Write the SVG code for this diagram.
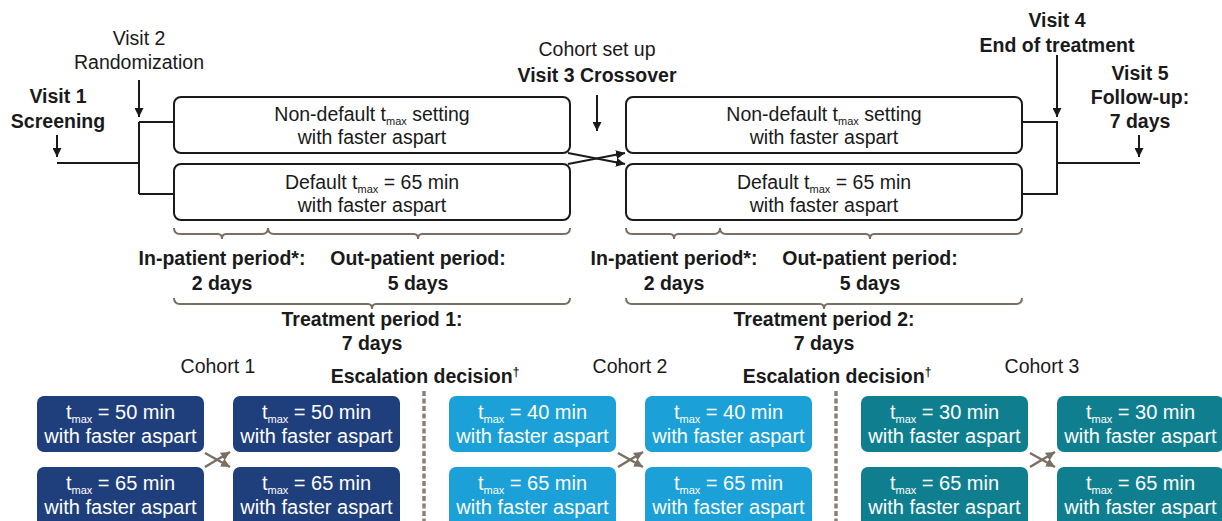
<svg xmlns="http://www.w3.org/2000/svg" width="1222" height="521" viewBox="0 0 1222 521">
<style>
.t{font-family:"Liberation Sans",Arial,sans-serif;font-size:19.5px;fill:#1a1a1a;text-anchor:middle}
.b{font-weight:bold}
.w{fill:#ffffff;font-size:20px}
.ln{stroke:#1a1a1a;stroke-width:2;fill:none}
.box{fill:#ffffff;stroke:#1a1a1a;stroke-width:2}
.br{stroke:#7b6f63;stroke-width:2;fill:none}
.c1{fill:#1f3e7c}
.c2{fill:#1ba1d8}
.c3{fill:#0f7f8f}
.x{stroke:#7b6f63;stroke-width:2.5;fill:none}
.dash{stroke:#8a8078;stroke-width:3.5;stroke-dasharray:5 2.5}
</style>
<defs>
<marker id="ah" viewBox="0 0 10 10" refX="10" refY="5" markerWidth="9" markerHeight="9" markerUnits="userSpaceOnUse" orient="auto"><path d="M0,0 L10,5 L0,10 z" fill="#1a1a1a"/></marker>
<marker id="ag" viewBox="0 0 10 10" refX="10" refY="5" markerWidth="9" markerHeight="9" markerUnits="userSpaceOnUse" orient="auto"><path d="M0,0 L10,5 L0,10 z" fill="#7b6f63"/></marker>
</defs>

<g id="connectors">
<line class="ln" x1="57" y1="135" x2="57" y2="157" marker-end="url(#ah)"/>
<line class="ln" x1="139" y1="80" x2="139" y2="117" marker-end="url(#ah)"/>
<line class="ln" x1="597" y1="95" x2="597" y2="131" marker-end="url(#ah)"/>
<line class="ln" x1="1057" y1="55" x2="1057" y2="117" marker-end="url(#ah)"/>
<line class="ln" x1="1139" y1="135" x2="1139" y2="157" marker-end="url(#ah)"/>
<path class="ln" d="M57,163 H139 M139,122 V194 M139,122 H174 M139,194 H174"/>
<path class="ln" d="M1022,122 H1057 V194 H1022 M1057,163 H1140"/>
<line class="ln" x1="568" y1="153" x2="625" y2="164" marker-end="url(#ah)"/>
<line class="ln" x1="568" y1="164" x2="625" y2="153" marker-end="url(#ah)"/>
<line class="x" x1="205" y1="453" x2="230" y2="467" marker-end="url(#ag)"/>
<line class="x" x1="205" y1="467" x2="230" y2="452" marker-end="url(#ag)"/>
<line class="x" x1="618" y1="453" x2="643" y2="467" marker-end="url(#ag)"/>
<line class="x" x1="618" y1="467" x2="643" y2="452" marker-end="url(#ag)"/>
<line class="x" x1="1030" y1="453" x2="1055" y2="467" marker-end="url(#ag)"/>
<line class="x" x1="1030" y1="467" x2="1055" y2="452" marker-end="url(#ag)"/>
</g>

<g id="visit-labels">
<text class="t b" x="58" y="103">Visit 1</text>
<text class="t b" x="58" y="128">Screening</text>
<text class="t" x="139" y="45">Visit 2</text>
<text class="t" x="139" y="69">Randomization</text>
<text class="t" x="597" y="56">Cohort set up</text>
<text class="t b" x="597" y="82">Visit 3 Crossover</text>
<text class="t b" x="1057" y="27">Visit 4</text>
<text class="t b" x="1057" y="52">End of treatment</text>
<text class="t b" x="1140" y="80">Visit 5</text>
<text class="t b" x="1140" y="104">Follow-up:</text>
<text class="t b" x="1140" y="128">7 days</text>
</g>

<g id="p1-nondefault">
<rect class="box" x="174" y="97" width="396" height="56" rx="7"/>
<text class="t" x="372" y="121">Non-default t<tspan font-size="11" dy="4">max</tspan><tspan dy="-4"> setting</tspan></text>
<text class="t" x="372" y="144">with faster aspart</text>
</g>
<g id="p1-default">
<rect class="box" x="174" y="164" width="396" height="56" rx="7"/>
<text class="t" x="372" y="189">Default t<tspan font-size="11" dy="4">max</tspan><tspan dy="-4"> = 65 min</tspan></text>
<text class="t" x="372" y="212">with faster aspart</text>
</g>
<g id="p2-nondefault">
<rect class="box" x="626" y="97" width="396" height="56" rx="7"/>
<text class="t" x="824" y="121">Non-default t<tspan font-size="11" dy="4">max</tspan><tspan dy="-4"> setting</tspan></text>
<text class="t" x="824" y="144">with faster aspart</text>
</g>
<g id="p2-default">
<rect class="box" x="626" y="164" width="396" height="56" rx="7"/>
<text class="t" x="824" y="189">Default t<tspan font-size="11" dy="4">max</tspan><tspan dy="-4"> = 65 min</tspan></text>
<text class="t" x="824" y="212">with faster aspart</text>
</g>

<g id="period1">
<path class="br" d="M174,228 q0,6 6,6 H218 q4,0 4,5 q0,-5 4,-5 H262 q6,0 6,-6"/>
<path class="br" d="M268,228 q0,6 6,6 H414 q4,0 4,5 q0,-5 4,-5 H564 q6,0 6,-6"/>
<text class="t b" x="222" y="265">In-patient period*:</text>
<text class="t b" x="222" y="290">2 days</text>
<text class="t b" x="418" y="265">Out-patient period:</text>
<text class="t b" x="418" y="290">5 days</text>
<path class="br" d="M174,298 q0,6 6,6 H368 q4,0 4,5 q0,-5 4,-5 H564 q6,0 6,-6"/>
<text class="t b" x="372" y="326">Treatment period 1:</text>
<text class="t b" x="372" y="350">7 days</text>
</g>

<g id="period2">
<path class="br" d="M626,228 q0,6 6,6 H670 q4,0 4,5 q0,-5 4,-5 H714 q6,0 6,-6"/>
<path class="br" d="M720,228 q0,6 6,6 H866 q4,0 4,5 q0,-5 4,-5 H1016 q6,0 6,-6"/>
<text class="t b" x="674" y="265">In-patient period*:</text>
<text class="t b" x="674" y="290">2 days</text>
<text class="t b" x="870" y="265">Out-patient period:</text>
<text class="t b" x="870" y="290">5 days</text>
<path class="br" d="M626,298 q0,6 6,6 H820 q4,0 4,5 q0,-5 4,-5 H1016 q6,0 6,-6"/>
<text class="t b" x="824" y="326">Treatment period 2:</text>
<text class="t b" x="824" y="350">7 days</text>
</g>

<g id="escalation">
<text class="t b" x="425" y="383">Escalation decision<tspan font-size="12" dy="-7">†</tspan></text>
<text class="t b" x="837" y="383">Escalation decision<tspan font-size="12" dy="-7">†</tspan></text>
<line class="dash" x1="424" y1="391" x2="424" y2="521"/>
<line class="dash" x1="836" y1="391" x2="836" y2="521"/>
</g>

<g id="cohort1">
<text class="t" x="218" y="373">Cohort 1</text>
<rect class="c1" x="37" y="396" width="167" height="56" rx="7"/>
<text class="t w" x="120.5" y="419">t<tspan font-size="11" dy="4">max</tspan><tspan dy="-4"> = 50 min</tspan></text>
<text class="t w" x="120.5" y="443">with faster aspart</text>
<rect class="c1" x="233" y="396" width="167" height="56" rx="7"/>
<text class="t w" x="316.5" y="419">t<tspan font-size="11" dy="4">max</tspan><tspan dy="-4"> = 50 min</tspan></text>
<text class="t w" x="316.5" y="443">with faster aspart</text>
<rect class="c1" x="37" y="467" width="167" height="60" rx="7"/>
<text class="t w" x="120.5" y="490">t<tspan font-size="11" dy="4">max</tspan><tspan dy="-4"> = 65 min</tspan></text>
<text class="t w" x="120.5" y="514">with faster aspart</text>
<rect class="c1" x="233" y="467" width="167" height="60" rx="7"/>
<text class="t w" x="316.5" y="490">t<tspan font-size="11" dy="4">max</tspan><tspan dy="-4"> = 65 min</tspan></text>
<text class="t w" x="316.5" y="514">with faster aspart</text>
</g>

<g id="cohort2">
<text class="t" x="630" y="373">Cohort 2</text>
<rect class="c2" x="449" y="396" width="167" height="56" rx="7"/>
<text class="t w" x="532.5" y="419">t<tspan font-size="11" dy="4">max</tspan><tspan dy="-4"> = 40 min</tspan></text>
<text class="t w" x="532.5" y="443">with faster aspart</text>
<rect class="c2" x="645" y="396" width="167" height="56" rx="7"/>
<text class="t w" x="728.5" y="419">t<tspan font-size="11" dy="4">max</tspan><tspan dy="-4"> = 40 min</tspan></text>
<text class="t w" x="728.5" y="443">with faster aspart</text>
<rect class="c2" x="449" y="467" width="167" height="60" rx="7"/>
<text class="t w" x="532.5" y="490">t<tspan font-size="11" dy="4">max</tspan><tspan dy="-4"> = 65 min</tspan></text>
<text class="t w" x="532.5" y="514">with faster aspart</text>
<rect class="c2" x="645" y="467" width="167" height="60" rx="7"/>
<text class="t w" x="728.5" y="490">t<tspan font-size="11" dy="4">max</tspan><tspan dy="-4"> = 65 min</tspan></text>
<text class="t w" x="728.5" y="514">with faster aspart</text>
</g>

<g id="cohort3">
<text class="t" x="1042" y="373">Cohort 3</text>
<rect class="c3" x="861" y="396" width="167" height="56" rx="7"/>
<text class="t w" x="944.5" y="419">t<tspan font-size="11" dy="4">max</tspan><tspan dy="-4"> = 30 min</tspan></text>
<text class="t w" x="944.5" y="443">with faster aspart</text>
<rect class="c3" x="1057" y="396" width="167" height="56" rx="7"/>
<text class="t w" x="1140.5" y="419">t<tspan font-size="11" dy="4">max</tspan><tspan dy="-4"> = 30 min</tspan></text>
<text class="t w" x="1140.5" y="443">with faster aspart</text>
<rect class="c3" x="861" y="467" width="167" height="60" rx="7"/>
<text class="t w" x="944.5" y="490">t<tspan font-size="11" dy="4">max</tspan><tspan dy="-4"> = 65 min</tspan></text>
<text class="t w" x="944.5" y="514">with faster aspart</text>
<rect class="c3" x="1057" y="467" width="167" height="60" rx="7"/>
<text class="t w" x="1140.5" y="490">t<tspan font-size="11" dy="4">max</tspan><tspan dy="-4"> = 65 min</tspan></text>
<text class="t w" x="1140.5" y="514">with faster aspart</text>
</g>
</svg>
